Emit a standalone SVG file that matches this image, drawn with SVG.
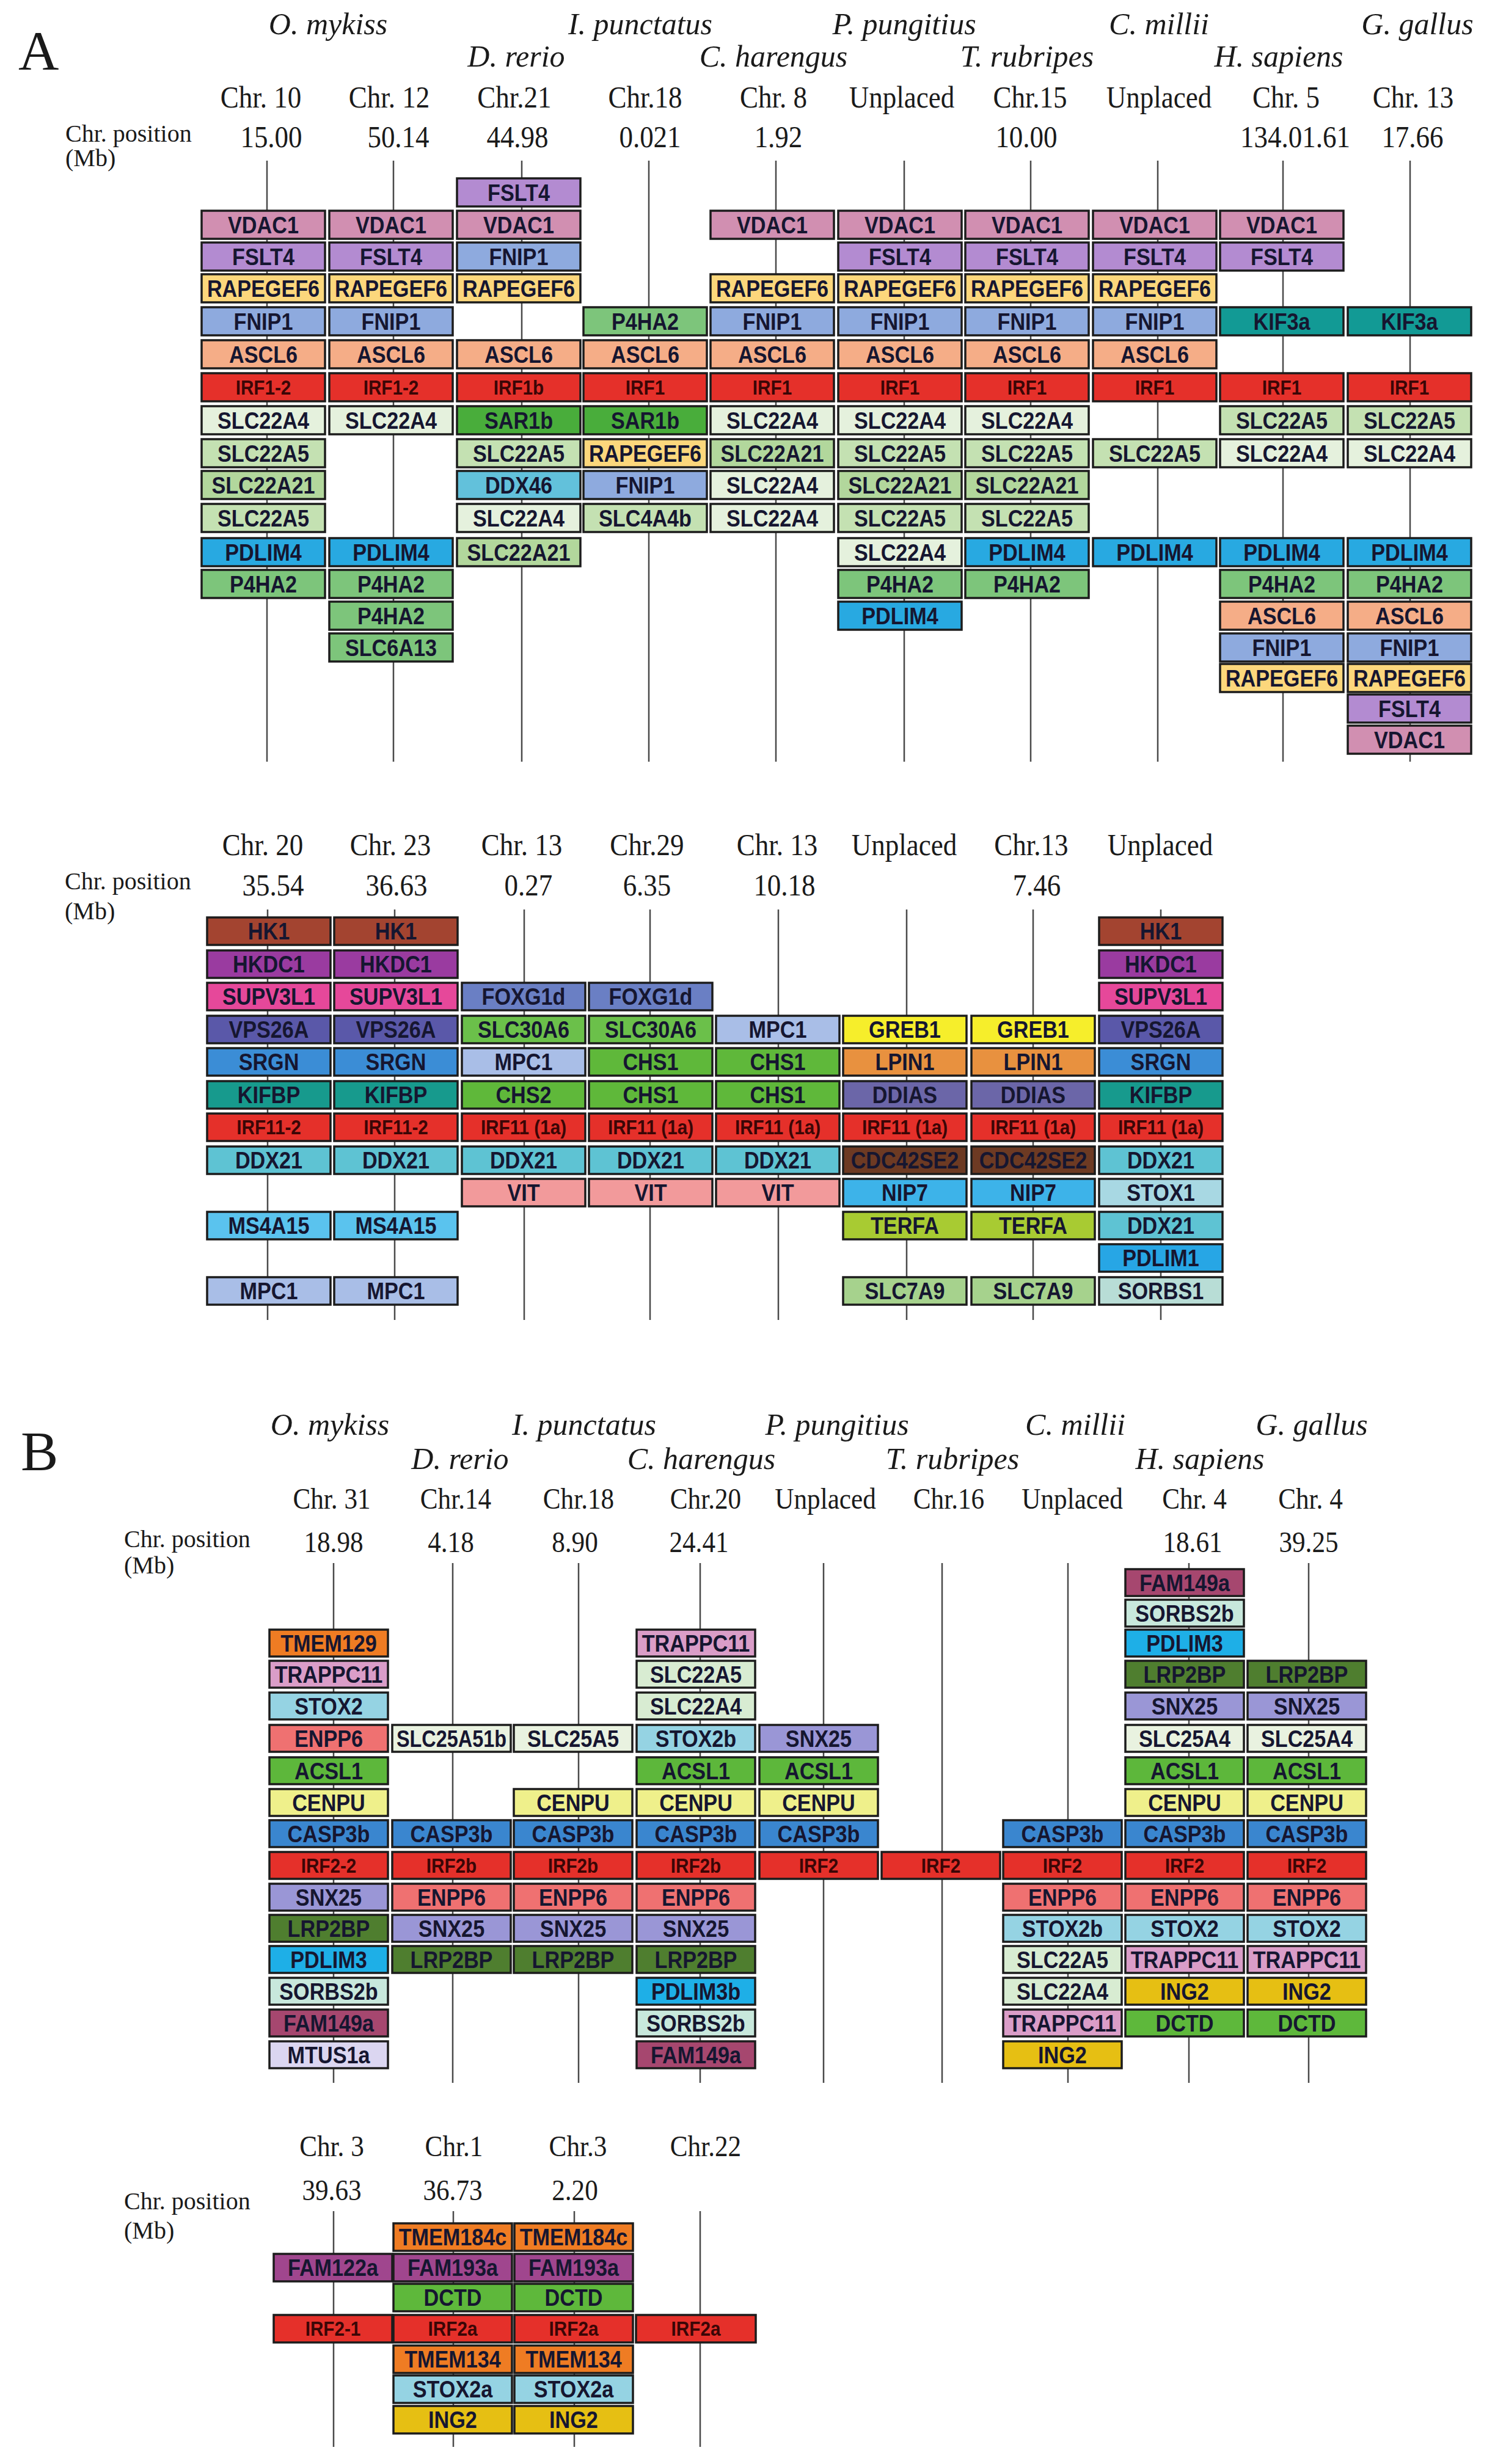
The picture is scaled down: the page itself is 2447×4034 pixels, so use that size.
<svg xmlns="http://www.w3.org/2000/svg" width="2447" height="4034" viewBox="0 0 2447 4034">
<style>
.hd{font-family:"Liberation Serif","Times New Roman",serif;fill:#1a1a1a}
.sp{font-style:italic;font-size:50px;text-anchor:middle}
.ch,.chb{font-size:50px;text-anchor:middle;transform:scaleX(.9);transform-box:fill-box;transform-origin:center}
.chb{font-size:48px}
.lb{font-size:40px}
.pl{font-size:92px}
#connectors line{stroke:#4a4a4a;stroke-width:2.5}
.n rect{stroke:#1c1c1c;stroke-width:3.5}
.n text{font-family:"Liberation Sans",Arial,sans-serif;font-weight:bold;font-size:38px;text-anchor:middle;fill:#161630;transform:scaleX(.9);transform-box:fill-box;transform-origin:center}
.n.r text{font-size:33px;fill:#3b0606}
.vd{fill:#d18fb1}.fs{fill:#b38bd1}.ra{fill:#fcd77c}.fn{fill:#8eaade}.as{fill:#f5ad87}.ir{fill:#e5302a}
.s4{fill:#e5f1dd}.s5{fill:#c4e1b2}.s21{fill:#b2d79c}.p4{fill:#28a9e1}.ph{fill:#7dc57b}.sa{fill:#49ad3b}
.dx{fill:#62c1db}.kf{fill:#129a95}.hk{fill:#a34430}.hkd{fill:#9a3ba0}.su{fill:#e6489a}.vp{fill:#5a58a9}
.sr{fill:#3b8dd6}.kb{fill:#179a8d}.d21{fill:#5ec3d3}.ms{fill:#5ac3ee}.mp{fill:#a9bee7}.fo{fill:#6a7fc4}
.s30{fill:#6bc04a}.chs{fill:#5fb83a}.vi{fill:#f29a9b}.gr{fill:#f6ee2b}.lp{fill:#e8913f}.dd{fill:#6b66a8}
.cd{fill:#6d3a23}.ni{fill:#3db3e9}.te{fill:#a8cb32}.s7{fill:#a6d28d}.st1{fill:#a8d8e3}.p1{fill:#27a6e5}
.so1{fill:#b8ddd6}.tm{fill:#ef7c23}.tr{fill:#da9dc8}.st2{fill:#95d3e3}.en{fill:#ef7171}.ac{fill:#5db73b}
.ce{fill:#eff08b}.ca{fill:#3a86cf}.sn{fill:#9a96d6}.lr{fill:#4f7e2f}.p3{fill:#1eafe7}.so2{fill:#c8e8dc}
.fa{fill:#a6476f}.mt{fill:#dbd6f1}.s25{fill:#e9f2e0}.b22{fill:#d8ecd2}.ig{fill:#e6bf13}.dc{fill:#5eb83b}.f12{fill:#a0468e}
</style>
<rect width="2447" height="4034" fill="#ffffff"/>

<g id="headers" class="hd">
<text class="pl" x="30" y="114">A</text>
<text class="sp" x="537" y="56">O. mykiss</text>
<text class="sp" x="1048" y="56">I. punctatus</text>
<text class="sp" x="1480" y="56">P. pungitius</text>
<text class="sp" x="1897" y="56">C. millii</text>
<text class="sp" x="2320" y="56">G. gallus</text>
<text class="sp" x="845" y="109">D. rerio</text>
<text class="sp" x="1266" y="109">C. harengus</text>
<text class="sp" x="1681" y="109">T. rubripes</text>
<text class="sp" x="2093" y="109">H. sapiens</text>
<text class="ch" x="427" y="176">Chr. 10</text>
<text class="ch" x="637" y="176">Chr. 12</text>
<text class="ch" x="842" y="176">Chr.21</text>
<text class="ch" x="1056" y="176">Chr.18</text>
<text class="ch" x="1266" y="176">Chr. 8</text>
<text class="ch" x="1476" y="176">Unplaced</text>
<text class="ch" x="1686" y="176">Chr.15</text>
<text class="ch" x="1897" y="176">Unplaced</text>
<text class="ch" x="2105" y="176">Chr. 5</text>
<text class="ch" x="2313" y="176">Chr. 13</text>
<text class="lb" x="107" y="232">Chr. position</text>
<text class="lb" x="107" y="272">(Mb)</text>
<text class="ch" x="444" y="241">15.00</text>
<text class="ch" x="652" y="241">50.14</text>
<text class="ch" x="847" y="241">44.98</text>
<text class="ch" x="1064" y="241">0.021</text>
<text class="ch" x="1274" y="241">1.92</text>
<text class="ch" x="1680" y="241">10.00</text>
<text class="ch" x="2120" y="241">134.01.61</text>
<text class="ch" x="2312" y="241">17.66</text>

<text class="ch" x="430" y="1400">Chr. 20</text>
<text class="ch" x="639" y="1400">Chr. 23</text>
<text class="ch" x="854" y="1400">Chr. 13</text>
<text class="ch" x="1059" y="1400">Chr.29</text>
<text class="ch" x="1272" y="1400">Chr. 13</text>
<text class="ch" x="1480" y="1400">Unplaced</text>
<text class="ch" x="1688" y="1400">Chr.13</text>
<text class="ch" x="1899" y="1400">Unplaced</text>
<text class="lb" x="106" y="1456">Chr. position</text>
<text class="lb" x="106" y="1505">(Mb)</text>
<text class="ch" x="447" y="1466">35.54</text>
<text class="ch" x="649" y="1466">36.63</text>
<text class="ch" x="865" y="1466">0.27</text>
<text class="ch" x="1059" y="1466">6.35</text>
<text class="ch" x="1284" y="1466">10.18</text>
<text class="ch" x="1697" y="1466">7.46</text>

<text class="pl" x="34" y="2407">B</text>
<text class="sp" x="540" y="2349">O. mykiss</text>
<text class="sp" x="956" y="2349">I. punctatus</text>
<text class="sp" x="1370" y="2349">P. pungitius</text>
<text class="sp" x="1760" y="2349">C. millii</text>
<text class="sp" x="2147" y="2349">G. gallus</text>
<text class="sp" x="753" y="2405">D. rerio</text>
<text class="sp" x="1148" y="2405">C. harengus</text>
<text class="sp" x="1559" y="2405">T. rubripes</text>
<text class="sp" x="1964" y="2405">H. sapiens</text>
<text class="chb" x="543" y="2470">Chr. 31</text>
<text class="chb" x="746" y="2470">Chr.14</text>
<text class="chb" x="947" y="2470">Chr.18</text>
<text class="chb" x="1155" y="2470">Chr.20</text>
<text class="chb" x="1351" y="2470">Unplaced</text>
<text class="chb" x="1553" y="2470">Chr.16</text>
<text class="chb" x="1755" y="2470">Unplaced</text>
<text class="chb" x="1955" y="2470">Chr. 4</text>
<text class="chb" x="2145" y="2470">Chr. 4</text>
<text class="lb" x="203" y="2533">Chr. position</text>
<text class="lb" x="203" y="2576">(Mb)</text>
<text class="chb" x="546" y="2541">18.98</text>
<text class="chb" x="738" y="2541">4.18</text>
<text class="chb" x="941" y="2541">8.90</text>
<text class="chb" x="1144" y="2541">24.41</text>
<text class="chb" x="1952" y="2541">18.61</text>
<text class="chb" x="2142" y="2541">39.25</text>

<text class="chb" x="543" y="3530">Chr. 3</text>
<text class="chb" x="743" y="3530">Chr.1</text>
<text class="chb" x="946" y="3530">Chr.3</text>
<text class="chb" x="1155" y="3530">Chr.22</text>
<text class="chb" x="543" y="3602">39.63</text>
<text class="chb" x="741" y="3602">36.73</text>
<text class="chb" x="941" y="3602">2.20</text>
<text class="lb" x="203" y="3617">Chr. position</text>
<text class="lb" x="203" y="3665">(Mb)</text>
</g>

<g id="connectors">
<line x1="437" y1="263" x2="437" y2="1247"/>
<line x1="644" y1="263" x2="644" y2="1247"/>
<line x1="854" y1="263" x2="854" y2="1247"/>
<line x1="1062" y1="263" x2="1062" y2="1247"/>
<line x1="1270" y1="263" x2="1270" y2="1247"/>
<line x1="1480" y1="263" x2="1480" y2="1247"/>
<line x1="1687" y1="263" x2="1687" y2="1247"/>
<line x1="1895" y1="263" x2="1895" y2="1247"/>
<line x1="2100" y1="263" x2="2100" y2="1247"/>
<line x1="2308" y1="263" x2="2308" y2="1247"/>

<line x1="438" y1="1489" x2="438" y2="2161"/>
<line x1="646" y1="1489" x2="646" y2="2161"/>
<line x1="858" y1="1489" x2="858" y2="2161"/>
<line x1="1064" y1="1489" x2="1064" y2="2161"/>
<line x1="1274" y1="1489" x2="1274" y2="2161"/>
<line x1="1484" y1="1489" x2="1484" y2="2161"/>
<line x1="1691" y1="1489" x2="1691" y2="2161"/>
<line x1="1900" y1="1489" x2="1900" y2="2161"/>

<line x1="546" y1="2559" x2="546" y2="3410"/>
<line x1="741" y1="2559" x2="741" y2="3410"/>
<line x1="947" y1="2559" x2="947" y2="3410"/>
<line x1="1146" y1="2559" x2="1146" y2="3410"/>
<line x1="1348" y1="2559" x2="1348" y2="3410"/>
<line x1="1542" y1="2559" x2="1542" y2="3410"/>
<line x1="1748" y1="2559" x2="1748" y2="3410"/>
<line x1="1946" y1="2559" x2="1946" y2="3410"/>
<line x1="2142" y1="2559" x2="2142" y2="3410"/>

<line x1="546" y1="3620" x2="546" y2="4006"/>
<line x1="742" y1="3620" x2="742" y2="4006"/>
<line x1="940" y1="3620" x2="940" y2="4006"/>
<line x1="1146" y1="3620" x2="1146" y2="4006"/>
</g>

<g id="panelA-top">
<g id="at0-1" class="n"><rect class="vd" x="330" y="345" width="202" height="46"/><text x="431" y="382">VDAC1</text></g>
<g id="at0-2" class="n"><rect class="fs" x="330" y="397" width="202" height="46"/><text x="431" y="434">FSLT4</text></g>
<g id="at0-3" class="n"><rect class="ra" x="330" y="449" width="202" height="46"/><text x="431" y="486">RAPEGEF6</text></g>
<g id="at0-4" class="n"><rect class="fn" x="330" y="503" width="202" height="46"/><text x="431" y="540">FNIP1</text></g>
<g id="at0-5" class="n"><rect class="as" x="330" y="557" width="202" height="46"/><text x="431" y="594">ASCL6</text></g>
<g id="at0-6" class="n r"><rect class="ir" x="330" y="611" width="202" height="46"/><text x="431" y="646">IRF1-2</text></g>
<g id="at0-7" class="n"><rect class="s4" x="330" y="665" width="202" height="46"/><text x="431" y="702">SLC22A4</text></g>
<g id="at0-8" class="n"><rect class="s5" x="330" y="719" width="202" height="46"/><text x="431" y="756">SLC22A5</text></g>
<g id="at0-9" class="n"><rect class="s21" x="330" y="771" width="202" height="46"/><text x="431" y="808">SLC22A21</text></g>
<g id="at0-10" class="n"><rect class="s5" x="330" y="825" width="202" height="46"/><text x="431" y="862">SLC22A5</text></g>
<g id="at0-11" class="n"><rect class="p4" x="330" y="881" width="202" height="46"/><text x="431" y="918">PDLIM4</text></g>
<g id="at0-12" class="n"><rect class="ph" x="330" y="933" width="202" height="46"/><text x="431" y="970">P4HA2</text></g>

<g id="at1-1" class="n"><rect class="vd" x="539" y="345" width="202" height="46"/><text x="640" y="382">VDAC1</text></g>
<g id="at1-2" class="n"><rect class="fs" x="539" y="397" width="202" height="46"/><text x="640" y="434">FSLT4</text></g>
<g id="at1-3" class="n"><rect class="ra" x="539" y="449" width="202" height="46"/><text x="640" y="486">RAPEGEF6</text></g>
<g id="at1-4" class="n"><rect class="fn" x="539" y="503" width="202" height="46"/><text x="640" y="540">FNIP1</text></g>
<g id="at1-5" class="n"><rect class="as" x="539" y="557" width="202" height="46"/><text x="640" y="594">ASCL6</text></g>
<g id="at1-6" class="n r"><rect class="ir" x="539" y="611" width="202" height="46"/><text x="640" y="646">IRF1-2</text></g>
<g id="at1-7" class="n"><rect class="s4" x="539" y="665" width="202" height="46"/><text x="640" y="702">SLC22A4</text></g>
<g id="at1-11" class="n"><rect class="p4" x="539" y="881" width="202" height="46"/><text x="640" y="918">PDLIM4</text></g>
<g id="at1-12" class="n"><rect class="ph" x="539" y="933" width="202" height="46"/><text x="640" y="970">P4HA2</text></g>
<g id="at1-13" class="n"><rect class="ph" x="539" y="985" width="202" height="46"/><text x="640" y="1022">P4HA2</text></g>
<g id="at1-14" class="n"><rect class="ph" x="539" y="1037" width="202" height="46"/><text x="640" y="1074">SLC6A13</text></g>

<g id="at2-0" class="n"><rect class="fs" x="748" y="292" width="202" height="46"/><text x="849" y="329">FSLT4</text></g>
<g id="at2-1" class="n"><rect class="vd" x="748" y="345" width="202" height="46"/><text x="849" y="382">VDAC1</text></g>
<g id="at2-2" class="n"><rect class="fn" x="748" y="397" width="202" height="46"/><text x="849" y="434">FNIP1</text></g>
<g id="at2-3" class="n"><rect class="ra" x="748" y="449" width="202" height="46"/><text x="849" y="486">RAPEGEF6</text></g>
<g id="at2-5" class="n"><rect class="as" x="748" y="557" width="202" height="46"/><text x="849" y="594">ASCL6</text></g>
<g id="at2-6" class="n r"><rect class="ir" x="748" y="611" width="202" height="46"/><text x="849" y="646">IRF1b</text></g>
<g id="at2-7" class="n"><rect class="sa" x="748" y="665" width="202" height="46"/><text x="849" y="702">SAR1b</text></g>
<g id="at2-8" class="n"><rect class="s5" x="748" y="719" width="202" height="46"/><text x="849" y="756">SLC22A5</text></g>
<g id="at2-9" class="n"><rect class="dx" x="748" y="771" width="202" height="46"/><text x="849" y="808">DDX46</text></g>
<g id="at2-10" class="n"><rect class="s4" x="748" y="825" width="202" height="46"/><text x="849" y="862">SLC22A4</text></g>
<g id="at2-11" class="n"><rect class="s21" x="748" y="881" width="202" height="46"/><text x="849" y="918">SLC22A21</text></g>

<g id="at3-4" class="n"><rect class="ph" x="955" y="503" width="202" height="46"/><text x="1056" y="540">P4HA2</text></g>
<g id="at3-5" class="n"><rect class="as" x="955" y="557" width="202" height="46"/><text x="1056" y="594">ASCL6</text></g>
<g id="at3-6" class="n r"><rect class="ir" x="955" y="611" width="202" height="46"/><text x="1056" y="646">IRF1</text></g>
<g id="at3-7" class="n"><rect class="sa" x="955" y="665" width="202" height="46"/><text x="1056" y="702">SAR1b</text></g>
<g id="at3-8" class="n"><rect class="ra" x="955" y="719" width="202" height="46"/><text x="1056" y="756">RAPEGEF6</text></g>
<g id="at3-9" class="n"><rect class="fn" x="955" y="771" width="202" height="46"/><text x="1056" y="808">FNIP1</text></g>
<g id="at3-10" class="n"><rect class="s5" x="955" y="825" width="202" height="46"/><text x="1056" y="862">SLC4A4b</text></g>

<g id="at4-1" class="n"><rect class="vd" x="1163" y="345" width="202" height="46"/><text x="1264" y="382">VDAC1</text></g>
<g id="at4-3" class="n"><rect class="ra" x="1163" y="449" width="202" height="46"/><text x="1264" y="486">RAPEGEF6</text></g>
<g id="at4-4" class="n"><rect class="fn" x="1163" y="503" width="202" height="46"/><text x="1264" y="540">FNIP1</text></g>
<g id="at4-5" class="n"><rect class="as" x="1163" y="557" width="202" height="46"/><text x="1264" y="594">ASCL6</text></g>
<g id="at4-6" class="n r"><rect class="ir" x="1163" y="611" width="202" height="46"/><text x="1264" y="646">IRF1</text></g>
<g id="at4-7" class="n"><rect class="s4" x="1163" y="665" width="202" height="46"/><text x="1264" y="702">SLC22A4</text></g>
<g id="at4-8" class="n"><rect class="s21" x="1163" y="719" width="202" height="46"/><text x="1264" y="756">SLC22A21</text></g>
<g id="at4-9" class="n"><rect class="s4" x="1163" y="771" width="202" height="46"/><text x="1264" y="808">SLC22A4</text></g>
<g id="at4-10" class="n"><rect class="s4" x="1163" y="825" width="202" height="46"/><text x="1264" y="862">SLC22A4</text></g>

<g id="at5-1" class="n"><rect class="vd" x="1372" y="345" width="202" height="46"/><text x="1473" y="382">VDAC1</text></g>
<g id="at5-2" class="n"><rect class="fs" x="1372" y="397" width="202" height="46"/><text x="1473" y="434">FSLT4</text></g>
<g id="at5-3" class="n"><rect class="ra" x="1372" y="449" width="202" height="46"/><text x="1473" y="486">RAPEGEF6</text></g>
<g id="at5-4" class="n"><rect class="fn" x="1372" y="503" width="202" height="46"/><text x="1473" y="540">FNIP1</text></g>
<g id="at5-5" class="n"><rect class="as" x="1372" y="557" width="202" height="46"/><text x="1473" y="594">ASCL6</text></g>
<g id="at5-6" class="n r"><rect class="ir" x="1372" y="611" width="202" height="46"/><text x="1473" y="646">IRF1</text></g>
<g id="at5-7" class="n"><rect class="s4" x="1372" y="665" width="202" height="46"/><text x="1473" y="702">SLC22A4</text></g>
<g id="at5-8" class="n"><rect class="s5" x="1372" y="719" width="202" height="46"/><text x="1473" y="756">SLC22A5</text></g>
<g id="at5-9" class="n"><rect class="s21" x="1372" y="771" width="202" height="46"/><text x="1473" y="808">SLC22A21</text></g>
<g id="at5-10" class="n"><rect class="s5" x="1372" y="825" width="202" height="46"/><text x="1473" y="862">SLC22A5</text></g>
<g id="at5-11" class="n"><rect class="s4" x="1372" y="881" width="202" height="46"/><text x="1473" y="918">SLC22A4</text></g>
<g id="at5-12" class="n"><rect class="ph" x="1372" y="933" width="202" height="46"/><text x="1473" y="970">P4HA2</text></g>
<g id="at5-13" class="n"><rect class="p4" x="1372" y="985" width="202" height="46"/><text x="1473" y="1022">PDLIM4</text></g>

<g id="at6-1" class="n"><rect class="vd" x="1580" y="345" width="202" height="46"/><text x="1681" y="382">VDAC1</text></g>
<g id="at6-2" class="n"><rect class="fs" x="1580" y="397" width="202" height="46"/><text x="1681" y="434">FSLT4</text></g>
<g id="at6-3" class="n"><rect class="ra" x="1580" y="449" width="202" height="46"/><text x="1681" y="486">RAPEGEF6</text></g>
<g id="at6-4" class="n"><rect class="fn" x="1580" y="503" width="202" height="46"/><text x="1681" y="540">FNIP1</text></g>
<g id="at6-5" class="n"><rect class="as" x="1580" y="557" width="202" height="46"/><text x="1681" y="594">ASCL6</text></g>
<g id="at6-6" class="n r"><rect class="ir" x="1580" y="611" width="202" height="46"/><text x="1681" y="646">IRF1</text></g>
<g id="at6-7" class="n"><rect class="s4" x="1580" y="665" width="202" height="46"/><text x="1681" y="702">SLC22A4</text></g>
<g id="at6-8" class="n"><rect class="s5" x="1580" y="719" width="202" height="46"/><text x="1681" y="756">SLC22A5</text></g>
<g id="at6-9" class="n"><rect class="s21" x="1580" y="771" width="202" height="46"/><text x="1681" y="808">SLC22A21</text></g>
<g id="at6-10" class="n"><rect class="s5" x="1580" y="825" width="202" height="46"/><text x="1681" y="862">SLC22A5</text></g>
<g id="at6-11" class="n"><rect class="p4" x="1580" y="881" width="202" height="46"/><text x="1681" y="918">PDLIM4</text></g>
<g id="at6-12" class="n"><rect class="ph" x="1580" y="933" width="202" height="46"/><text x="1681" y="970">P4HA2</text></g>

<g id="at7-1" class="n"><rect class="vd" x="1789" y="345" width="202" height="46"/><text x="1890" y="382">VDAC1</text></g>
<g id="at7-2" class="n"><rect class="fs" x="1789" y="397" width="202" height="46"/><text x="1890" y="434">FSLT4</text></g>
<g id="at7-3" class="n"><rect class="ra" x="1789" y="449" width="202" height="46"/><text x="1890" y="486">RAPEGEF6</text></g>
<g id="at7-4" class="n"><rect class="fn" x="1789" y="503" width="202" height="46"/><text x="1890" y="540">FNIP1</text></g>
<g id="at7-5" class="n"><rect class="as" x="1789" y="557" width="202" height="46"/><text x="1890" y="594">ASCL6</text></g>
<g id="at7-6" class="n r"><rect class="ir" x="1789" y="611" width="202" height="46"/><text x="1890" y="646">IRF1</text></g>
<g id="at7-8" class="n"><rect class="s5" x="1789" y="719" width="202" height="46"/><text x="1890" y="756">SLC22A5</text></g>
<g id="at7-11" class="n"><rect class="p4" x="1789" y="881" width="202" height="46"/><text x="1890" y="918">PDLIM4</text></g>

<g id="at8-1" class="n"><rect class="vd" x="1997" y="345" width="202" height="46"/><text x="2098" y="382">VDAC1</text></g>
<g id="at8-2" class="n"><rect class="fs" x="1997" y="397" width="202" height="46"/><text x="2098" y="434">FSLT4</text></g>
<g id="at8-4" class="n"><rect class="kf" x="1997" y="503" width="202" height="46"/><text x="2098" y="540">KIF3a</text></g>
<g id="at8-6" class="n r"><rect class="ir" x="1997" y="611" width="202" height="46"/><text x="2098" y="646">IRF1</text></g>
<g id="at8-7" class="n"><rect class="s5" x="1997" y="665" width="202" height="46"/><text x="2098" y="702">SLC22A5</text></g>
<g id="at8-8" class="n"><rect class="s4" x="1997" y="719" width="202" height="46"/><text x="2098" y="756">SLC22A4</text></g>
<g id="at8-11" class="n"><rect class="p4" x="1997" y="881" width="202" height="46"/><text x="2098" y="918">PDLIM4</text></g>
<g id="at8-12" class="n"><rect class="ph" x="1997" y="933" width="202" height="46"/><text x="2098" y="970">P4HA2</text></g>
<g id="at8-13" class="n"><rect class="as" x="1997" y="985" width="202" height="46"/><text x="2098" y="1022">ASCL6</text></g>
<g id="at8-14" class="n"><rect class="fn" x="1997" y="1037" width="202" height="46"/><text x="2098" y="1074">FNIP1</text></g>
<g id="at8-15" class="n"><rect class="ra" x="1997" y="1087" width="202" height="46"/><text x="2098" y="1124">RAPEGEF6</text></g>

<g id="at9-4" class="n"><rect class="kf" x="2206" y="503" width="202" height="46"/><text x="2307" y="540">KIF3a</text></g>
<g id="at9-6" class="n r"><rect class="ir" x="2206" y="611" width="202" height="46"/><text x="2307" y="646">IRF1</text></g>
<g id="at9-7" class="n"><rect class="s5" x="2206" y="665" width="202" height="46"/><text x="2307" y="702">SLC22A5</text></g>
<g id="at9-8" class="n"><rect class="s4" x="2206" y="719" width="202" height="46"/><text x="2307" y="756">SLC22A4</text></g>
<g id="at9-11" class="n"><rect class="p4" x="2206" y="881" width="202" height="46"/><text x="2307" y="918">PDLIM4</text></g>
<g id="at9-12" class="n"><rect class="ph" x="2206" y="933" width="202" height="46"/><text x="2307" y="970">P4HA2</text></g>
<g id="at9-13" class="n"><rect class="as" x="2206" y="985" width="202" height="46"/><text x="2307" y="1022">ASCL6</text></g>
<g id="at9-14" class="n"><rect class="fn" x="2206" y="1037" width="202" height="46"/><text x="2307" y="1074">FNIP1</text></g>
<g id="at9-15" class="n"><rect class="ra" x="2206" y="1087" width="202" height="46"/><text x="2307" y="1124">RAPEGEF6</text></g>
<g id="at9-16" class="n"><rect class="fs" x="2206" y="1137" width="202" height="46"/><text x="2307" y="1174">FSLT4</text></g>
<g id="at9-17" class="n"><rect class="vd" x="2206" y="1188" width="202" height="46"/><text x="2307" y="1225">VDAC1</text></g>
</g>

<g id="panelA-bottom">
<g id="ab0-0" class="n"><rect class="hk" x="339" y="1502" width="202" height="45"/><text x="440" y="1538">HK1</text></g>
<g id="ab0-1" class="n"><rect class="hkd" x="339" y="1556" width="202" height="45"/><text x="440" y="1592">HKDC1</text></g>
<g id="ab0-2" class="n"><rect class="su" x="339" y="1609" width="202" height="45"/><text x="440" y="1645">SUPV3L1</text></g>
<g id="ab0-3" class="n"><rect class="vp" x="339" y="1663" width="202" height="45"/><text x="440" y="1699">VPS26A</text></g>
<g id="ab0-4" class="n"><rect class="sr" x="339" y="1716" width="202" height="45"/><text x="440" y="1752">SRGN</text></g>
<g id="ab0-5" class="n"><rect class="kb" x="339" y="1770" width="202" height="45"/><text x="440" y="1806">KIFBP</text></g>
<g id="ab0-6" class="n r"><rect class="ir" x="339" y="1823" width="202" height="45"/><text x="440" y="1857">IRF11-2</text></g>
<g id="ab0-7" class="n"><rect class="d21" x="339" y="1877" width="202" height="45"/><text x="440" y="1913">DDX21</text></g>
<g id="ab0-9" class="n"><rect class="ms" x="339" y="1984" width="202" height="45"/><text x="440" y="2020">MS4A15</text></g>
<g id="ab0-11" class="n"><rect class="mp" x="339" y="2091" width="202" height="45"/><text x="440" y="2127">MPC1</text></g>

<g id="ab1-0" class="n"><rect class="hk" x="547" y="1502" width="202" height="45"/><text x="648" y="1538">HK1</text></g>
<g id="ab1-1" class="n"><rect class="hkd" x="547" y="1556" width="202" height="45"/><text x="648" y="1592">HKDC1</text></g>
<g id="ab1-2" class="n"><rect class="su" x="547" y="1609" width="202" height="45"/><text x="648" y="1645">SUPV3L1</text></g>
<g id="ab1-3" class="n"><rect class="vp" x="547" y="1663" width="202" height="45"/><text x="648" y="1699">VPS26A</text></g>
<g id="ab1-4" class="n"><rect class="sr" x="547" y="1716" width="202" height="45"/><text x="648" y="1752">SRGN</text></g>
<g id="ab1-5" class="n"><rect class="kb" x="547" y="1770" width="202" height="45"/><text x="648" y="1806">KIFBP</text></g>
<g id="ab1-6" class="n r"><rect class="ir" x="547" y="1823" width="202" height="45"/><text x="648" y="1857">IRF11-2</text></g>
<g id="ab1-7" class="n"><rect class="d21" x="547" y="1877" width="202" height="45"/><text x="648" y="1913">DDX21</text></g>
<g id="ab1-9" class="n"><rect class="ms" x="547" y="1984" width="202" height="45"/><text x="648" y="2020">MS4A15</text></g>
<g id="ab1-11" class="n"><rect class="mp" x="547" y="2091" width="202" height="45"/><text x="648" y="2127">MPC1</text></g>

<g id="ab2-2" class="n"><rect class="fo" x="756" y="1609" width="202" height="45"/><text x="857" y="1645">FOXG1d</text></g>
<g id="ab2-3" class="n"><rect class="s30" x="756" y="1663" width="202" height="45"/><text x="857" y="1699">SLC30A6</text></g>
<g id="ab2-4" class="n"><rect class="mp" x="756" y="1716" width="202" height="45"/><text x="857" y="1752">MPC1</text></g>
<g id="ab2-5" class="n"><rect class="chs" x="756" y="1770" width="202" height="45"/><text x="857" y="1806">CHS2</text></g>
<g id="ab2-6" class="n r"><rect class="ir" x="756" y="1823" width="202" height="45"/><text x="857" y="1857">IRF11 (1a)</text></g>
<g id="ab2-7" class="n"><rect class="d21" x="756" y="1877" width="202" height="45"/><text x="857" y="1913">DDX21</text></g>
<g id="ab2-8" class="n"><rect class="vi" x="756" y="1930" width="202" height="45"/><text x="857" y="1966">VIT</text></g>

<g id="ab3-2" class="n"><rect class="fo" x="964" y="1609" width="202" height="45"/><text x="1065" y="1645">FOXG1d</text></g>
<g id="ab3-3" class="n"><rect class="s30" x="964" y="1663" width="202" height="45"/><text x="1065" y="1699">SLC30A6</text></g>
<g id="ab3-4" class="n"><rect class="chs" x="964" y="1716" width="202" height="45"/><text x="1065" y="1752">CHS1</text></g>
<g id="ab3-5" class="n"><rect class="chs" x="964" y="1770" width="202" height="45"/><text x="1065" y="1806">CHS1</text></g>
<g id="ab3-6" class="n r"><rect class="ir" x="964" y="1823" width="202" height="45"/><text x="1065" y="1857">IRF11 (1a)</text></g>
<g id="ab3-7" class="n"><rect class="d21" x="964" y="1877" width="202" height="45"/><text x="1065" y="1913">DDX21</text></g>
<g id="ab3-8" class="n"><rect class="vi" x="964" y="1930" width="202" height="45"/><text x="1065" y="1966">VIT</text></g>

<g id="ab4-3" class="n"><rect class="mp" x="1172" y="1663" width="202" height="45"/><text x="1273" y="1699">MPC1</text></g>
<g id="ab4-4" class="n"><rect class="chs" x="1172" y="1716" width="202" height="45"/><text x="1273" y="1752">CHS1</text></g>
<g id="ab4-5" class="n"><rect class="chs" x="1172" y="1770" width="202" height="45"/><text x="1273" y="1806">CHS1</text></g>
<g id="ab4-6" class="n r"><rect class="ir" x="1172" y="1823" width="202" height="45"/><text x="1273" y="1857">IRF11 (1a)</text></g>
<g id="ab4-7" class="n"><rect class="d21" x="1172" y="1877" width="202" height="45"/><text x="1273" y="1913">DDX21</text></g>
<g id="ab4-8" class="n"><rect class="vi" x="1172" y="1930" width="202" height="45"/><text x="1273" y="1966">VIT</text></g>

<g id="ab5-3" class="n"><rect class="gr" x="1380" y="1663" width="202" height="45"/><text x="1481" y="1699">GREB1</text></g>
<g id="ab5-4" class="n"><rect class="lp" x="1380" y="1716" width="202" height="45"/><text x="1481" y="1752">LPIN1</text></g>
<g id="ab5-5" class="n"><rect class="dd" x="1380" y="1770" width="202" height="45"/><text x="1481" y="1806">DDIAS</text></g>
<g id="ab5-6" class="n r"><rect class="ir" x="1380" y="1823" width="202" height="45"/><text x="1481" y="1857">IRF11 (1a)</text></g>
<g id="ab5-7" class="n"><rect class="cd" x="1380" y="1877" width="202" height="45"/><text x="1481" y="1913">CDC42SE2</text></g>
<g id="ab5-8" class="n"><rect class="ni" x="1380" y="1930" width="202" height="45"/><text x="1481" y="1966">NIP7</text></g>
<g id="ab5-9" class="n"><rect class="te" x="1380" y="1984" width="202" height="45"/><text x="1481" y="2020">TERFA</text></g>
<g id="ab5-11" class="n"><rect class="s7" x="1380" y="2091" width="202" height="45"/><text x="1481" y="2127">SLC7A9</text></g>

<g id="ab6-3" class="n"><rect class="gr" x="1590" y="1663" width="202" height="45"/><text x="1691" y="1699">GREB1</text></g>
<g id="ab6-4" class="n"><rect class="lp" x="1590" y="1716" width="202" height="45"/><text x="1691" y="1752">LPIN1</text></g>
<g id="ab6-5" class="n"><rect class="dd" x="1590" y="1770" width="202" height="45"/><text x="1691" y="1806">DDIAS</text></g>
<g id="ab6-6" class="n r"><rect class="ir" x="1590" y="1823" width="202" height="45"/><text x="1691" y="1857">IRF11 (1a)</text></g>
<g id="ab6-7" class="n"><rect class="cd" x="1590" y="1877" width="202" height="45"/><text x="1691" y="1913">CDC42SE2</text></g>
<g id="ab6-8" class="n"><rect class="ni" x="1590" y="1930" width="202" height="45"/><text x="1691" y="1966">NIP7</text></g>
<g id="ab6-9" class="n"><rect class="te" x="1590" y="1984" width="202" height="45"/><text x="1691" y="2020">TERFA</text></g>
<g id="ab6-11" class="n"><rect class="s7" x="1590" y="2091" width="202" height="45"/><text x="1691" y="2127">SLC7A9</text></g>

<g id="ab7-0" class="n"><rect class="hk" x="1799" y="1502" width="202" height="45"/><text x="1900" y="1538">HK1</text></g>
<g id="ab7-1" class="n"><rect class="hkd" x="1799" y="1556" width="202" height="45"/><text x="1900" y="1592">HKDC1</text></g>
<g id="ab7-2" class="n"><rect class="su" x="1799" y="1609" width="202" height="45"/><text x="1900" y="1645">SUPV3L1</text></g>
<g id="ab7-3" class="n"><rect class="vp" x="1799" y="1663" width="202" height="45"/><text x="1900" y="1699">VPS26A</text></g>
<g id="ab7-4" class="n"><rect class="sr" x="1799" y="1716" width="202" height="45"/><text x="1900" y="1752">SRGN</text></g>
<g id="ab7-5" class="n"><rect class="kb" x="1799" y="1770" width="202" height="45"/><text x="1900" y="1806">KIFBP</text></g>
<g id="ab7-6" class="n r"><rect class="ir" x="1799" y="1823" width="202" height="45"/><text x="1900" y="1857">IRF11 (1a)</text></g>
<g id="ab7-7" class="n"><rect class="d21" x="1799" y="1877" width="202" height="45"/><text x="1900" y="1913">DDX21</text></g>
<g id="ab7-8" class="n"><rect class="st1" x="1799" y="1930" width="202" height="45"/><text x="1900" y="1966">STOX1</text></g>
<g id="ab7-9" class="n"><rect class="d21" x="1799" y="1984" width="202" height="45"/><text x="1900" y="2020">DDX21</text></g>
<g id="ab7-10" class="n"><rect class="p1" x="1799" y="2037" width="202" height="45"/><text x="1900" y="2073">PDLIM1</text></g>
<g id="ab7-11" class="n"><rect class="so1" x="1799" y="2091" width="202" height="45"/><text x="1900" y="2127">SORBS1</text></g>
</g>

<g id="panelB-top">
<g id="bt0-2" class="n"><rect class="tm" x="441" y="2668" width="194" height="44"/><text x="538" y="2704">TMEM129</text></g>
<g id="bt0-3" class="n"><rect class="tr" x="441" y="2719" width="194" height="44"/><text x="538" y="2755">TRAPPC11</text></g>
<g id="bt0-4" class="n"><rect class="st2" x="441" y="2771" width="194" height="44"/><text x="538" y="2807">STOX2</text></g>
<g id="bt0-5" class="n"><rect class="en" x="441" y="2824" width="194" height="44"/><text x="538" y="2860">ENPP6</text></g>
<g id="bt0-6" class="n"><rect class="ac" x="441" y="2877" width="194" height="44"/><text x="538" y="2913">ACSL1</text></g>
<g id="bt0-7" class="n"><rect class="ce" x="441" y="2929" width="194" height="44"/><text x="538" y="2965">CENPU</text></g>
<g id="bt0-8" class="n"><rect class="ca" x="441" y="2980" width="194" height="44"/><text x="538" y="3016">CASP3b</text></g>
<g id="bt0-9" class="n r"><rect class="ir" x="441" y="3032" width="194" height="44"/><text x="538" y="3066">IRF2-2</text></g>
<g id="bt0-10" class="n"><rect class="sn" x="441" y="3084" width="194" height="44"/><text x="538" y="3120">SNX25</text></g>
<g id="bt0-11" class="n"><rect class="lr" x="441" y="3135" width="194" height="44"/><text x="538" y="3171">LRP2BP</text></g>
<g id="bt0-12" class="n"><rect class="p3" x="441" y="3186" width="194" height="44"/><text x="538" y="3222">PDLIM3</text></g>
<g id="bt0-13" class="n"><rect class="so2" x="441" y="3238" width="194" height="44"/><text x="538" y="3274">SORBS2b</text></g>
<g id="bt0-14" class="n"><rect class="fa" x="441" y="3290" width="194" height="44"/><text x="538" y="3326">FAM149a</text></g>
<g id="bt0-15" class="n"><rect class="mt" x="441" y="3342" width="194" height="44"/><text x="538" y="3378">MTUS1a</text></g>

<g id="bt1-5" class="n"><rect class="s25" x="642" y="2824" width="194" height="44"/><text x="739" y="2860" textLength="200" lengthAdjust="spacingAndGlyphs">SLC25A51b</text></g>
<g id="bt1-8" class="n"><rect class="ca" x="642" y="2980" width="194" height="44"/><text x="739" y="3016">CASP3b</text></g>
<g id="bt1-9" class="n r"><rect class="ir" x="642" y="3032" width="194" height="44"/><text x="739" y="3066">IRF2b</text></g>
<g id="bt1-10" class="n"><rect class="en" x="642" y="3084" width="194" height="44"/><text x="739" y="3120">ENPP6</text></g>
<g id="bt1-11" class="n"><rect class="sn" x="642" y="3135" width="194" height="44"/><text x="739" y="3171">SNX25</text></g>
<g id="bt1-12" class="n"><rect class="lr" x="642" y="3186" width="194" height="44"/><text x="739" y="3222">LRP2BP</text></g>

<g id="bt2-5" class="n"><rect class="s25" x="841" y="2824" width="194" height="44"/><text x="938" y="2860">SLC25A5</text></g>
<g id="bt2-7" class="n"><rect class="ce" x="841" y="2929" width="194" height="44"/><text x="938" y="2965">CENPU</text></g>
<g id="bt2-8" class="n"><rect class="ca" x="841" y="2980" width="194" height="44"/><text x="938" y="3016">CASP3b</text></g>
<g id="bt2-9" class="n r"><rect class="ir" x="841" y="3032" width="194" height="44"/><text x="938" y="3066">IRF2b</text></g>
<g id="bt2-10" class="n"><rect class="en" x="841" y="3084" width="194" height="44"/><text x="938" y="3120">ENPP6</text></g>
<g id="bt2-11" class="n"><rect class="sn" x="841" y="3135" width="194" height="44"/><text x="938" y="3171">SNX25</text></g>
<g id="bt2-12" class="n"><rect class="lr" x="841" y="3186" width="194" height="44"/><text x="938" y="3222">LRP2BP</text></g>

<g id="bt3-2" class="n"><rect class="tr" x="1042" y="2668" width="194" height="44"/><text x="1139" y="2704">TRAPPC11</text></g>
<g id="bt3-3" class="n"><rect class="b22" x="1042" y="2719" width="194" height="44"/><text x="1139" y="2755">SLC22A5</text></g>
<g id="bt3-4" class="n"><rect class="b22" x="1042" y="2771" width="194" height="44"/><text x="1139" y="2807">SLC22A4</text></g>
<g id="bt3-5" class="n"><rect class="st2" x="1042" y="2824" width="194" height="44"/><text x="1139" y="2860">STOX2b</text></g>
<g id="bt3-6" class="n"><rect class="ac" x="1042" y="2877" width="194" height="44"/><text x="1139" y="2913">ACSL1</text></g>
<g id="bt3-7" class="n"><rect class="ce" x="1042" y="2929" width="194" height="44"/><text x="1139" y="2965">CENPU</text></g>
<g id="bt3-8" class="n"><rect class="ca" x="1042" y="2980" width="194" height="44"/><text x="1139" y="3016">CASP3b</text></g>
<g id="bt3-9" class="n r"><rect class="ir" x="1042" y="3032" width="194" height="44"/><text x="1139" y="3066">IRF2b</text></g>
<g id="bt3-10" class="n"><rect class="en" x="1042" y="3084" width="194" height="44"/><text x="1139" y="3120">ENPP6</text></g>
<g id="bt3-11" class="n"><rect class="sn" x="1042" y="3135" width="194" height="44"/><text x="1139" y="3171">SNX25</text></g>
<g id="bt3-12" class="n"><rect class="lr" x="1042" y="3186" width="194" height="44"/><text x="1139" y="3222">LRP2BP</text></g>
<g id="bt3-13" class="n"><rect class="p3" x="1042" y="3238" width="194" height="44"/><text x="1139" y="3274">PDLIM3b</text></g>
<g id="bt3-14" class="n"><rect class="so2" x="1042" y="3290" width="194" height="44"/><text x="1139" y="3326">SORBS2b</text></g>
<g id="bt3-15" class="n"><rect class="fa" x="1042" y="3342" width="194" height="44"/><text x="1139" y="3378">FAM149a</text></g>

<g id="bt4-5" class="n"><rect class="sn" x="1243" y="2824" width="194" height="44"/><text x="1340" y="2860">SNX25</text></g>
<g id="bt4-6" class="n"><rect class="ac" x="1243" y="2877" width="194" height="44"/><text x="1340" y="2913">ACSL1</text></g>
<g id="bt4-7" class="n"><rect class="ce" x="1243" y="2929" width="194" height="44"/><text x="1340" y="2965">CENPU</text></g>
<g id="bt4-8" class="n"><rect class="ca" x="1243" y="2980" width="194" height="44"/><text x="1340" y="3016">CASP3b</text></g>
<g id="bt4-9" class="n r"><rect class="ir" x="1243" y="3032" width="194" height="44"/><text x="1340" y="3066">IRF2</text></g>

<g id="bt5-9" class="n r"><rect class="ir" x="1443" y="3032" width="194" height="44"/><text x="1540" y="3066">IRF2</text></g>

<g id="bt6-8" class="n"><rect class="ca" x="1642" y="2980" width="194" height="44"/><text x="1739" y="3016">CASP3b</text></g>
<g id="bt6-9" class="n r"><rect class="ir" x="1642" y="3032" width="194" height="44"/><text x="1739" y="3066">IRF2</text></g>
<g id="bt6-10" class="n"><rect class="en" x="1642" y="3084" width="194" height="44"/><text x="1739" y="3120">ENPP6</text></g>
<g id="bt6-11" class="n"><rect class="st2" x="1642" y="3135" width="194" height="44"/><text x="1739" y="3171">STOX2b</text></g>
<g id="bt6-12" class="n"><rect class="b22" x="1642" y="3186" width="194" height="44"/><text x="1739" y="3222">SLC22A5</text></g>
<g id="bt6-13" class="n"><rect class="b22" x="1642" y="3238" width="194" height="44"/><text x="1739" y="3274">SLC22A4</text></g>
<g id="bt6-14" class="n"><rect class="tr" x="1642" y="3290" width="194" height="44"/><text x="1739" y="3326">TRAPPC11</text></g>
<g id="bt6-15" class="n"><rect class="ig" x="1642" y="3342" width="194" height="44"/><text x="1739" y="3378">ING2</text></g>

<g id="bt7-0" class="n"><rect class="fa" x="1842" y="2569" width="194" height="44"/><text x="1939" y="2605">FAM149a</text></g>
<g id="bt7-1" class="n"><rect class="so2" x="1842" y="2619" width="194" height="44"/><text x="1939" y="2655">SORBS2b</text></g>
<g id="bt7-2" class="n"><rect class="p3" x="1842" y="2668" width="194" height="44"/><text x="1939" y="2704">PDLIM3</text></g>
<g id="bt7-3" class="n"><rect class="lr" x="1842" y="2719" width="194" height="44"/><text x="1939" y="2755">LRP2BP</text></g>
<g id="bt7-4" class="n"><rect class="sn" x="1842" y="2771" width="194" height="44"/><text x="1939" y="2807">SNX25</text></g>
<g id="bt7-5" class="n"><rect class="s25" x="1842" y="2824" width="194" height="44"/><text x="1939" y="2860">SLC25A4</text></g>
<g id="bt7-6" class="n"><rect class="ac" x="1842" y="2877" width="194" height="44"/><text x="1939" y="2913">ACSL1</text></g>
<g id="bt7-7" class="n"><rect class="ce" x="1842" y="2929" width="194" height="44"/><text x="1939" y="2965">CENPU</text></g>
<g id="bt7-8" class="n"><rect class="ca" x="1842" y="2980" width="194" height="44"/><text x="1939" y="3016">CASP3b</text></g>
<g id="bt7-9" class="n r"><rect class="ir" x="1842" y="3032" width="194" height="44"/><text x="1939" y="3066">IRF2</text></g>
<g id="bt7-10" class="n"><rect class="en" x="1842" y="3084" width="194" height="44"/><text x="1939" y="3120">ENPP6</text></g>
<g id="bt7-11" class="n"><rect class="st2" x="1842" y="3135" width="194" height="44"/><text x="1939" y="3171">STOX2</text></g>
<g id="bt7-12" class="n"><rect class="tr" x="1842" y="3186" width="194" height="44"/><text x="1939" y="3222">TRAPPC11</text></g>
<g id="bt7-13" class="n"><rect class="ig" x="1842" y="3238" width="194" height="44"/><text x="1939" y="3274">ING2</text></g>
<g id="bt7-14" class="n"><rect class="dc" x="1842" y="3290" width="194" height="44"/><text x="1939" y="3326">DCTD</text></g>

<g id="bt8-3" class="n"><rect class="lr" x="2042" y="2719" width="194" height="44"/><text x="2139" y="2755">LRP2BP</text></g>
<g id="bt8-4" class="n"><rect class="sn" x="2042" y="2771" width="194" height="44"/><text x="2139" y="2807">SNX25</text></g>
<g id="bt8-5" class="n"><rect class="s25" x="2042" y="2824" width="194" height="44"/><text x="2139" y="2860">SLC25A4</text></g>
<g id="bt8-6" class="n"><rect class="ac" x="2042" y="2877" width="194" height="44"/><text x="2139" y="2913">ACSL1</text></g>
<g id="bt8-7" class="n"><rect class="ce" x="2042" y="2929" width="194" height="44"/><text x="2139" y="2965">CENPU</text></g>
<g id="bt8-8" class="n"><rect class="ca" x="2042" y="2980" width="194" height="44"/><text x="2139" y="3016">CASP3b</text></g>
<g id="bt8-9" class="n r"><rect class="ir" x="2042" y="3032" width="194" height="44"/><text x="2139" y="3066">IRF2</text></g>
<g id="bt8-10" class="n"><rect class="en" x="2042" y="3084" width="194" height="44"/><text x="2139" y="3120">ENPP6</text></g>
<g id="bt8-11" class="n"><rect class="st2" x="2042" y="3135" width="194" height="44"/><text x="2139" y="3171">STOX2</text></g>
<g id="bt8-12" class="n"><rect class="tr" x="2042" y="3186" width="194" height="44"/><text x="2139" y="3222">TRAPPC11</text></g>
<g id="bt8-13" class="n"><rect class="ig" x="2042" y="3238" width="194" height="44"/><text x="2139" y="3274">ING2</text></g>
<g id="bt8-14" class="n"><rect class="dc" x="2042" y="3290" width="194" height="44"/><text x="2139" y="3326">DCTD</text></g>
</g>

<g id="panelB-bottom">
<g id="bb0-1" class="n"><rect class="f12" x="448" y="3690" width="194" height="45"/><text x="545" y="3726">FAM122a</text></g>
<g id="bb0-3" class="n r"><rect class="ir" x="448" y="3790" width="194" height="45"/><text x="545" y="3824">IRF2-1</text></g>
<g id="bb1-0" class="n"><rect class="tm" x="644" y="3640" width="194" height="45"/><text x="741" y="3676">TMEM184c</text></g>
<g id="bb1-1" class="n"><rect class="f12" x="644" y="3690" width="194" height="45"/><text x="741" y="3726">FAM193a</text></g>
<g id="bb1-2" class="n"><rect class="dc" x="644" y="3739" width="194" height="45"/><text x="741" y="3775">DCTD</text></g>
<g id="bb1-3" class="n r"><rect class="ir" x="644" y="3790" width="194" height="45"/><text x="741" y="3824">IRF2a</text></g>
<g id="bb1-4" class="n"><rect class="tm" x="644" y="3840" width="194" height="45"/><text x="741" y="3876">TMEM134</text></g>
<g id="bb1-5" class="n"><rect class="st2" x="644" y="3889" width="194" height="45"/><text x="741" y="3925">STOX2a</text></g>
<g id="bb1-6" class="n"><rect class="ig" x="644" y="3939" width="194" height="45"/><text x="741" y="3975">ING2</text></g>
<g id="bb2-0" class="n"><rect class="tm" x="842" y="3640" width="194" height="45"/><text x="939" y="3676">TMEM184c</text></g>
<g id="bb2-1" class="n"><rect class="f12" x="842" y="3690" width="194" height="45"/><text x="939" y="3726">FAM193a</text></g>
<g id="bb2-2" class="n"><rect class="dc" x="842" y="3739" width="194" height="45"/><text x="939" y="3775">DCTD</text></g>
<g id="bb2-3" class="n r"><rect class="ir" x="842" y="3790" width="194" height="45"/><text x="939" y="3824">IRF2a</text></g>
<g id="bb2-4" class="n"><rect class="tm" x="842" y="3840" width="194" height="45"/><text x="939" y="3876">TMEM134</text></g>
<g id="bb2-5" class="n"><rect class="st2" x="842" y="3889" width="194" height="45"/><text x="939" y="3925">STOX2a</text></g>
<g id="bb2-6" class="n"><rect class="ig" x="842" y="3939" width="194" height="45"/><text x="939" y="3975">ING2</text></g>
<g id="bb3-3" class="n r"><rect class="ir" x="1041" y="3790" width="196" height="45"/><text x="1139" y="3824">IRF2a</text></g>
</g>
</svg>
